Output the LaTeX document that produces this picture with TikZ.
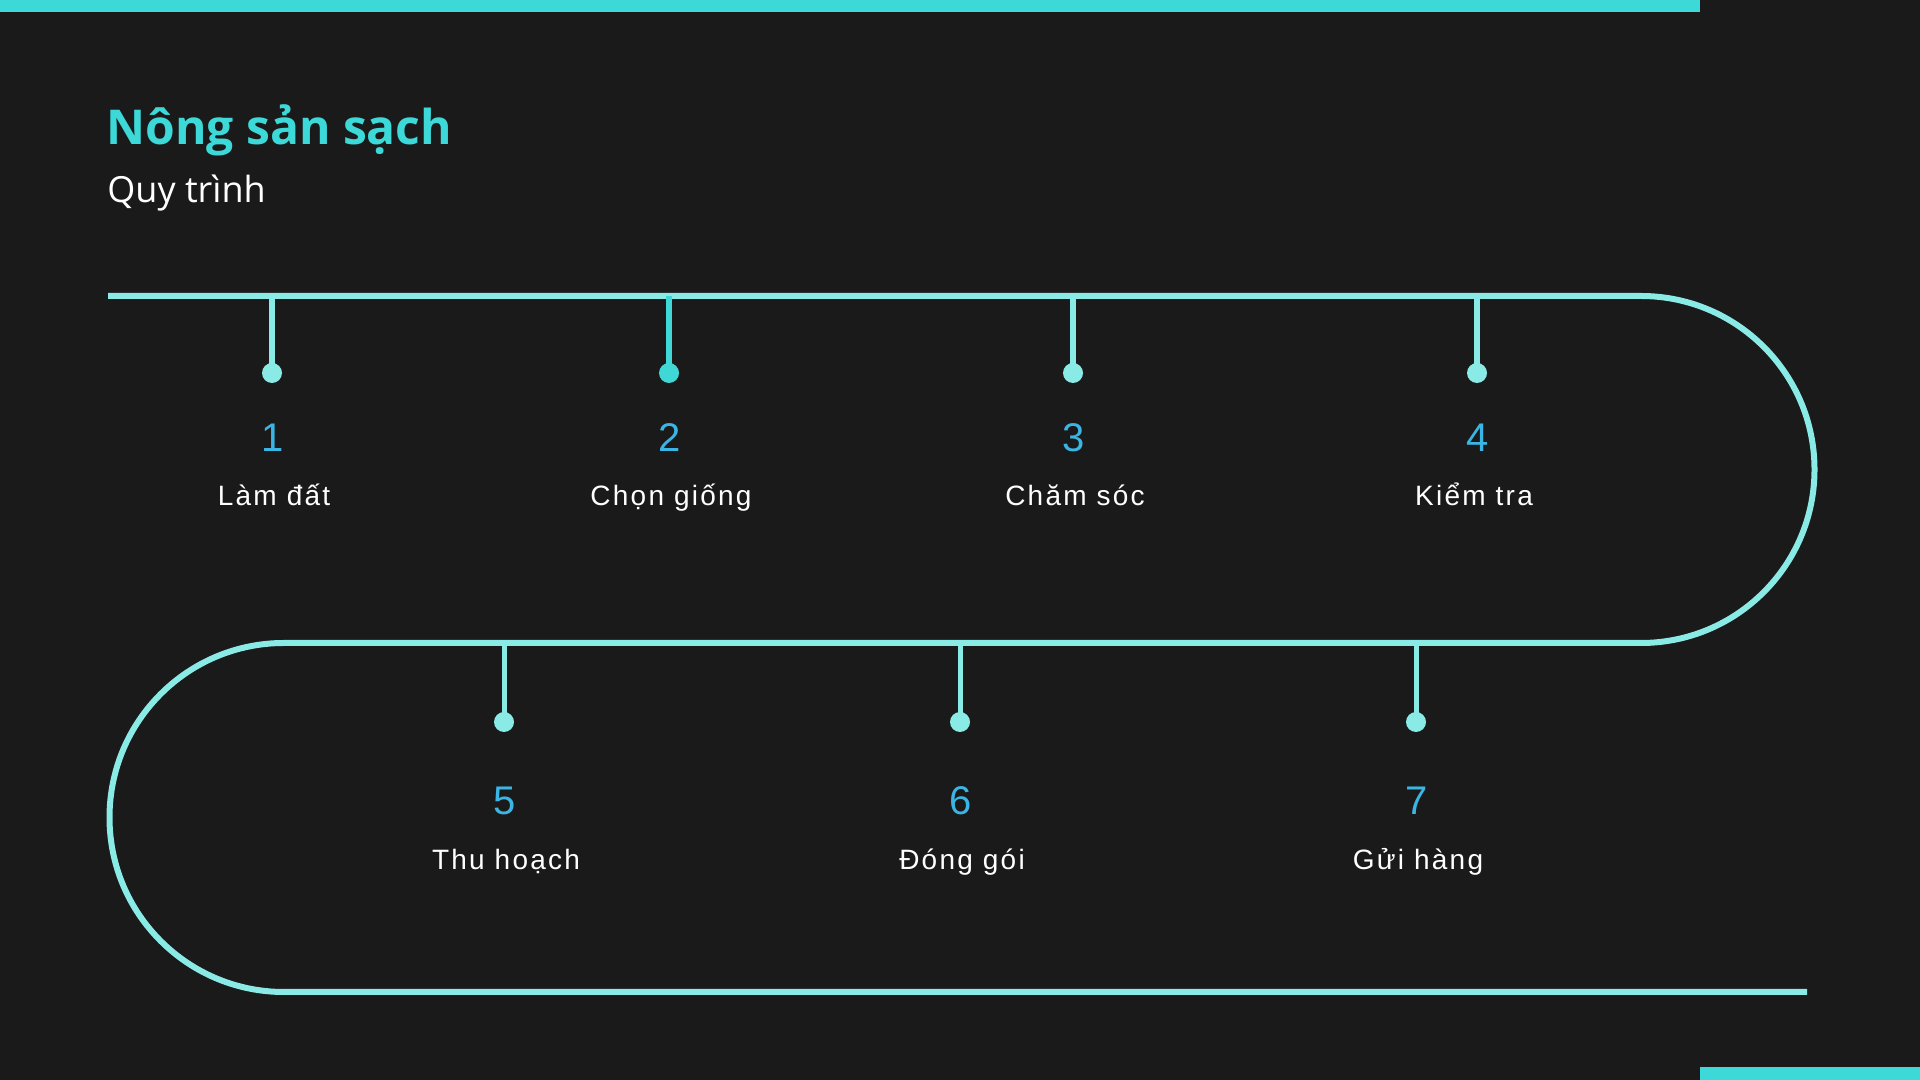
\documentclass[tikz,border=0pt]{standalone}
\usepackage{fontspec}
\usepackage{xcolor}
\usepackage{tikz}
\usetikzlibrary{calc, positioning}
\setmainfont{Liberation Sans}
\newfontfamily\titlefont{Open Sans}
\newfontfamily\labelfont[LetterSpace=8]{Liberation Sans}
\definecolor{bgdark}{HTML}{1A1A1A}
\definecolor{barcyan}{HTML}{3DD9D9}
\definecolor{trackcyan}{HTML}{8AEBE6}
\definecolor{tickcyan}{HTML}{40D8D6}
\definecolor{numblue}{HTML}{3BB6E4}
\tikzset{
    titlenode/.style = {draw=none, fill=none, rectangle, inner sep = 0em, anchor=base west, 
      text=barcyan, font=\titlefont\bfseries\fontsize{24pt}{28pt}\selectfont},
    subtitlenode/.style = {draw=none, fill=none, rectangle, inner sep = 0em, anchor=base west, 
      text=white, font=\titlefont\fontsize{18pt}{22pt}\selectfont},
    numnode/.style = {draw=none, fill=none, rectangle, inner sep = 0em, anchor=base, 
      text=numblue, font=\fontsize{20pt}{24pt}\selectfont},
    labelnode/.style = {draw=none, fill=none, rectangle, inner sep = 0em, anchor=base, 
      text=white, font=\labelfont\fontsize{14pt}{17pt}\selectfont},
    dotnode/.style = {draw=none, fill=trackcyan, circle, minimum size=10pt, inner sep = 0em},
    track/.style = {trackcyan, line width=3pt},
    tick/.style = {trackcyan, line width=3pt},
    thintick/.style = {trackcyan, line width=2.5pt}
}
\begin{document}
\begin{tikzpicture}[x=0.5pt, y=0.5pt]
    \useasboundingbox (0,0) rectangle (1920,1080);
    \fill[bgdark] (0,0) rectangle (1920,1080);
    \fill[barcyan] (0,1068) rectangle (1700,1080);
    \fill[barcyan] (1700,0) rectangle (1920,13);

    \node [name=title, titlenode] at (106,935) {Nông sản sạch};
    \node [name=subtitle, subtitlenode] at (107,877) {Quy trình};

    % the winding track
    \coordinate (start) at (108,784);
    \coordinate (turnR) at (1641,784);
    \coordinate (midR) at (1641,437);
    \coordinate (midL) at (284,437);
    \coordinate (stop) at (1807,88);
    \draw[track] (start) -- (turnR) arc[start angle=90, end angle=-90, radius=173.5] -- (midL)
      arc[start angle=90, end angle=270, radius=174.5] -- (stop);

    % upper row
    \node [name=D1, dotnode] at (272,707) {};
    \node [name=D2, dotnode, fill=tickcyan] at (669,707) {};
    \node [name=D3, dotnode] at (1073,707) {};
    \node [name=D4, dotnode] at (1477,707) {};
    \draw[tick] (272,784) -- (D1.center);
    \draw[tick, tickcyan] (669,784) -- (D2.center);
    \draw[tick] (1073,784) -- (D3.center);
    \draw[tick] (1477,784) -- (D4.center);

    \node [name=N1, numnode] at (273,628) {1};
    \node [name=N2, numnode] at (670,628) {2};
    \node [name=N3, numnode] at (1074,628) {3};
    \node [name=N4, numnode] at (1478,628) {4};
    \node [name=L1, labelnode] at (274,574) {Làm đất};
    \node [name=L2, labelnode] at (671,574) {Chọn giống};
    \node [name=L3, labelnode] at (1075,574) {Chăm sóc};
    \node [name=L4, labelnode] at (1474,574) {Kiểm tra};

    % lower row
    \node [name=D5, dotnode] at (504,358) {};
    \node [name=D6, dotnode] at (960,358) {};
    \node [name=D7, dotnode] at (1416,358) {};
    \draw[thintick] (504,437) -- (D5.center);
    \draw[thintick] (960,437) -- (D6.center);
    \draw[thintick] (1416,437) -- (D7.center);

    \node [name=N5, numnode] at (505,265) {5};
    \node [name=N6, numnode] at (961,265) {6};
    \node [name=N7, numnode] at (1417,265) {7};
    \node [name=L5, labelnode] at (506,210) {Thu hoạch};
    \node [name=L6, labelnode] at (962,210) {Đóng gói};
    \node [name=L7, labelnode] at (1418,210) {Gửi hàng};
\end{tikzpicture}
\end{document}
